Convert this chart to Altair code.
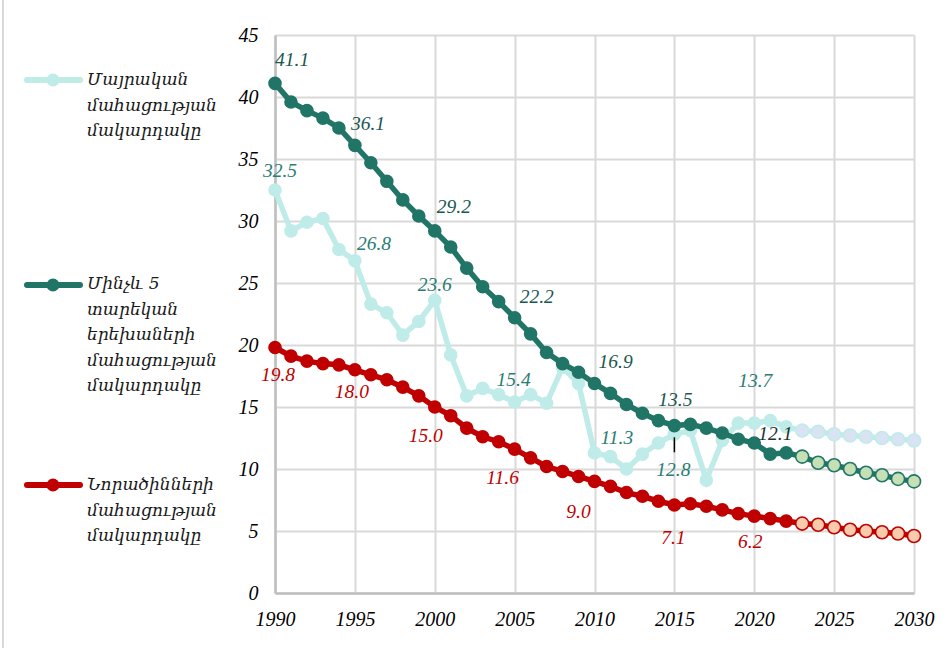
import altair as alt
import pandas as pd

# ---- data -----------------------------------------------------------------
years = list(range(1990, 2031))
first_projected_year = 2023

maternal = [32.5, 29.2, 29.9, 30.2, 27.7, 26.8, 23.3, 22.6, 20.8, 21.9,
            23.6, 19.2, 15.9, 16.5, 16.0, 15.4, 16.0, 15.3, 18.2, 16.9,
            11.3, 11.0, 10.0, 11.2, 12.1, 12.8, 13.1, 9.1, 12.3, 13.7,
            13.7, 13.9, 13.4, 13.1, 13.0, 12.8, 12.7, 12.6, 12.5, 12.4, 12.3]
under5 = [41.1, 39.6, 38.9, 38.3, 37.5, 36.1, 34.7, 33.2, 31.7, 30.4,
          29.2, 27.9, 26.2, 24.7, 23.5, 22.2, 20.9, 19.4, 18.5, 17.8,
          16.9, 16.1, 15.2, 14.5, 13.9, 13.5, 13.6, 13.3, 12.9, 12.4,
          12.1, 11.2, 11.3, 11.0, 10.5, 10.3, 10.0, 9.7, 9.5, 9.2, 9.0]
neonatal = [19.8, 19.1, 18.7, 18.5, 18.4, 18.0, 17.6, 17.2, 16.6, 15.9,
            15.0, 14.3, 13.3, 12.6, 12.2, 11.6, 10.9, 10.2, 9.8, 9.4,
            9.0, 8.6, 8.1, 7.8, 7.4, 7.1, 7.2, 7.0, 6.7, 6.4,
            6.2, 6.0, 5.8, 5.6, 5.5, 5.3, 5.1, 5.0, 4.9, 4.8, 4.6]

legend_maternal = ["Մայրական", "մահացության", "մակարդակը"]
legend_under5 = ["Մինչև 5", "տարեկան", "երեխաների", "մահացության", "մակարդակը"]
legend_neonatal = ["Նորածինների", "մահացության", "մակարդակը"]

x_ticks = list(range(1990, 2031, 5))
y_ticks = list(range(0, 46, 5))

# ---- styling ----------------------------------------------------------------
SERIES = {
    "maternal": dict(values=maternal, line="#bfece8", fill_proj="#dae3f3",
                     stroke_proj="#bfece8", label="#2a7d74"),
    "under5": dict(values=under5, line="#217567", fill_proj="#c5e0b4",
                   stroke_proj="#217567", label="#1a5850"),
    "neonatal": dict(values=neonatal, line="#c00000", fill_proj="#f8cbad",
                     stroke_proj="#c00000", label="#c00000"),
}

# label placement: (align, dx, dy)
PLACEMENT = {
    ("under5", 1990): ("left", 0, -23), ("under5", 1995): ("left", -4, -21),
    ("under5", 2000): ("left", 2, -24), ("under5", 2005): ("left", 5, -21),
    ("under5", 2010): ("left", 4, -21), ("under5", 2015): ("center", 1, -26),
    ("under5", 2020): ("left", 4, -9),
    ("maternal", 1990): ("center", 5, -19), ("maternal", 1995): ("left", 2, -17),
    ("maternal", 2000): ("center", 0, -15), ("maternal", 2005): ("center", -1, -22),
    ("maternal", 2010): ("left", 6, -15), ("maternal", 2015): ("center", -1, 36),
    ("maternal", 2020): ("center", 1, -42),
    ("neonatal", 1990): ("center", 3, 28), ("neonatal", 1995): ("center", -3, 22),
    ("neonatal", 2000): ("center", -9, 29), ("neonatal", 2005): ("center", -12, 29),
    ("neonatal", 2010): ("center", -16, 31), ("neonatal", 2015): ("center", -1, 33),
    ("neonatal", 2020): ("center", -4, 26),
}
LABEL_COLOR_OVERRIDE = {("under5", 2020): "#1e3331"}

FONT = "Liberation Serif"
LEGEND_FONT = "DejaVu Serif"

rows = []
for name, spec in SERIES.items():
    for yr, v in zip(years, spec["values"]):
        rows.append({"series": name, "year": yr, "value": v,
                     "projected": yr >= first_projected_year})
df = pd.DataFrame(rows)

x_scale = alt.Scale(domain=[1990, 2030], nice=False, zero=False)
y_scale = alt.Scale(domain=[0, 45], nice=False)

x_enc = alt.X("year:Q", scale=x_scale,
              axis=alt.Axis(values=x_ticks, format="d", title=None, ticks=False,
                            labelFont=FONT, labelFontStyle="italic", labelFontSize=20,
                            labelColor="#000000", labelPadding=16,
                            domainColor="#bfbfbf", domainWidth=2.5,
                            gridColor="#d9d9d9", gridWidth=2, labelFlush=False))
y_enc = alt.Y("value:Q", scale=y_scale,
              axis=alt.Axis(values=y_ticks, title=None, ticks=False,
                            labelFont=FONT, labelFontStyle="italic", labelFontSize=20,
                            labelColor="#000000", labelPadding=17,
                            domainColor="#bfbfbf", domainWidth=2.5,
                            gridColor="#d9d9d9", gridWidth=2))

layers = []
base = alt.Chart(df)
for name, spec in SERIES.items():
    sel = base.transform_filter(alt.datum.series == name)
    layers.append(sel.mark_line(color=spec["line"], strokeWidth=5.5)
                  .encode(x=x_enc, y=y_enc))
    layers.append(sel.transform_filter(alt.datum.projected == False)
                  .mark_circle(color=spec["line"], opacity=1, size=185)
                  .encode(x=x_enc, y=y_enc))
    layers.append(sel.transform_filter(alt.datum.projected == True)
                  .mark_point(filled=True, fill=spec["fill_proj"],
                              stroke=spec["stroke_proj"], strokeWidth=1.6,
                              opacity=1, size=170, shape="circle")
                  .encode(x=x_enc, y=y_enc))

# value labels
for (name, yr), (align, dx, dy) in PLACEMENT.items():
    v = SERIES[name]["values"][years.index(yr)]
    ldf = pd.DataFrame({"year": [yr], "value": [v], "text": [f"{v:.1f}"]})
    color = LABEL_COLOR_OVERRIDE.get((name, yr), SERIES[name]["label"])
    layers.append(alt.Chart(ldf).mark_text(
        font=FONT, fontStyle="italic", fontSize=19.5, color=color,
        align=align, baseline="middle", dx=dx, dy=dy
    ).encode(x=alt.X("year:Q", scale=x_scale), y=alt.Y("value:Q", scale=y_scale),
             text="text:N"))

# leader line under the 2015 maternal label
lead_v = maternal[years.index(2015)]
layers.append(alt.Chart(pd.DataFrame({"year": [2015], "value": [lead_v]}))
              .mark_rule(color="#000000", strokeWidth=1.5, yOffset=3, y2Offset=18)
              .encode(x=alt.X("year:Q", scale=x_scale),
                      y=alt.Y("value:Q", scale=y_scale), y2="value:Q"))

# legend drawn at the left of the plot
one = pd.DataFrame({"k": [0]})
legend_entries = [
    (legend_maternal, SERIES["maternal"]["line"], 45, 45),
    (legend_under5, SERIES["under5"]["line"], 250, 249),
    (legend_neonatal, SERIES["neonatal"]["line"], 450, 450),
]
for lines, color, ly, ty in legend_entries:
    layers.append(alt.Chart(one).mark_rule(color=color, strokeWidth=6, strokeCap="round")
                  .encode(x=alt.value(-248), x2=alt.value(-195), y=alt.value(ly)))
    layers.append(alt.Chart(one).mark_circle(color=color, opacity=1, size=170)
                  .encode(x=alt.value(-222), y=alt.value(ly)))
    layers.append(alt.Chart(one).mark_text(
        text=lines, font=LEGEND_FONT, fontStyle="italic", fontSize=17,
        color="#1a1a1a", align="left", baseline="middle", lineHeight=25.5
    ).encode(x=alt.value(-188), y=alt.value(ty)))

# outer frame edge on the left
layers.append(alt.Chart(one).mark_rule(color="#d9d9d9", strokeWidth=2)
              .encode(x=alt.value(-272), y=alt.value(-35), y2=alt.value(613)))

chart = alt.layer(*layers).properties(
    width=639, height=558,
    autosize=alt.AutoSizeParams(type="none"),
    padding={"left": 275, "top": 35, "right": 38, "bottom": 55},
    background="#ffffff",
).configure_view(stroke=None)

chart.save("out.html", embed_options={"renderer": "svg", "actions": False})
